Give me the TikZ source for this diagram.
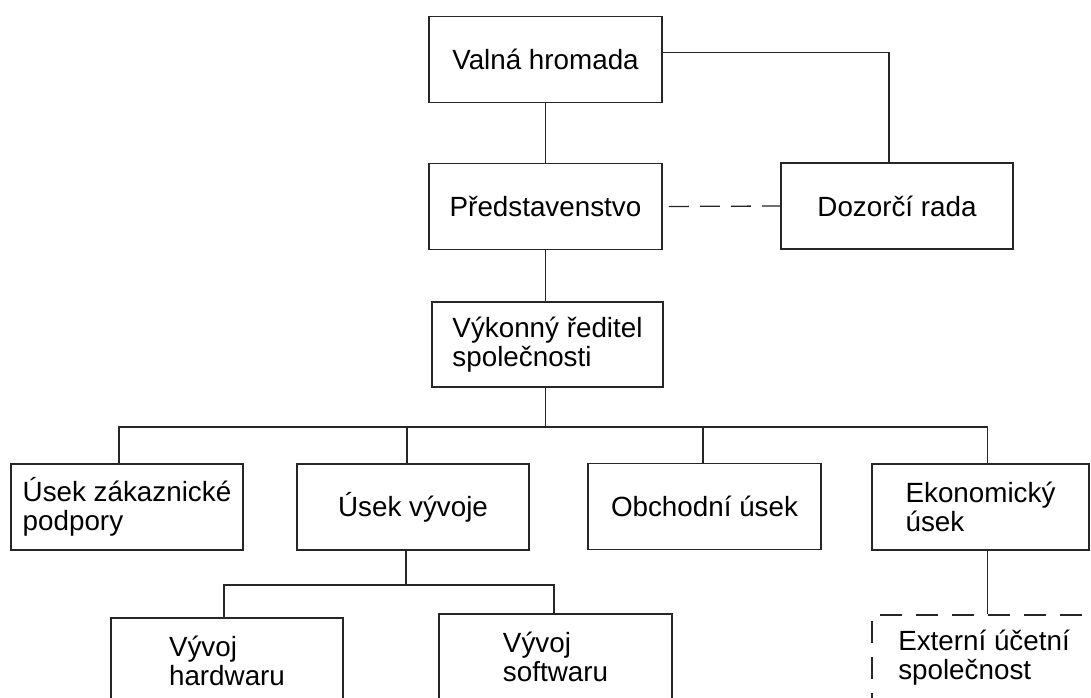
\documentclass[tikz,border=0pt]{standalone}
\usepackage{fontspec}
\setmainfont{Liberation Sans}
\begin{document}
\begin{tikzpicture}[x=1pt,y=-1pt,
  box/.style={draw=black!85, line width=1.5pt, rectangle, inner sep=0pt,
    minimum height=86pt, align=left, font=\fontsize{27.8}{29}\selectfont},
  conn/.style={draw=black!85, line width=1.3pt},
  dashconn/.style={conn, dash pattern=on 20pt off 11pt, dash phase=-6pt},
  dashbox/.style={box, dash pattern=on 22pt off 14pt}]
\useasboundingbox (0,0) rectangle (1091,697);
\clip (0,0) rectangle (1091,697);
\fill[white] (0,0) rectangle (1091,697);

\node[box, minimum width=233pt] (valna) at (545.5,59.5) {Valná hromada};
\node[box, minimum width=233pt] (pred) at (545.5,206.5) {Představenstvo};
\node[box, minimum width=232pt] (dozor) at (897,206) {Dozorčí rada};
\node[box, minimum width=231pt, minimum height=85pt] (vyk) at (547.5,344.5) {Výkonný ředitel\\společnosti};

\node[box, minimum width=232pt] (usekzak) at (127,507) {Úsek zákaznické\\podpory};
\node[box, minimum width=232pt] (usekvyv) at (413,507) {Úsek vývoje};
\node[box, minimum width=233pt] (obch) at (704.5,506.5) {Obchodní úsek};
\node[box, minimum width=217pt] (ekon) at (980.5,507) {Ekonomický\\úsek};

\node[box, minimum width=232pt] (hw) at (227,661) {Vývoj\\hardwaru};
\node[box, minimum width=233pt] (sw) at (555.5,657) {Vývoj\\softwaru};
\node[dashbox, minimum width=224pt] (ext) at (984,658) {Externí účetní\\společnost};

\coordinate (bus1) at (545.5,427);
\coordinate (bus2) at (406,585);

\draw[conn] (valna.south) -- (pred.north);
\draw[conn] ([yshift=7pt]valna.east) -| ([xshift=-8pt]dozor.north);
\draw[dashconn] (pred.east) -- (dozor.west);
\draw[conn] (pred.south) -- (pred.south |- vyk.north);
\draw[conn] (bus1 |- vyk.south) -- (bus1);
\draw[conn] ([xshift=-8pt]usekzak.north) |- (bus1) -| ([xshift=7pt]ekon.north);
\draw[conn] (bus1) -| ([xshift=-6pt]usekvyv.north);
\draw[conn] (bus1) -| ([xshift=-1.5pt]obch.north);
\draw[conn] ([xshift=-7pt]usekvyv.south) -- (bus2);
\draw[conn] ([xshift=-3pt]hw.north) |- (bus2) -| ([xshift=-1.5pt]sw.north);
\draw[conn] ([xshift=7pt]ekon.south) -- ([xshift=7pt]ekon.south |- ext.north);
\end{tikzpicture}
\end{document}
